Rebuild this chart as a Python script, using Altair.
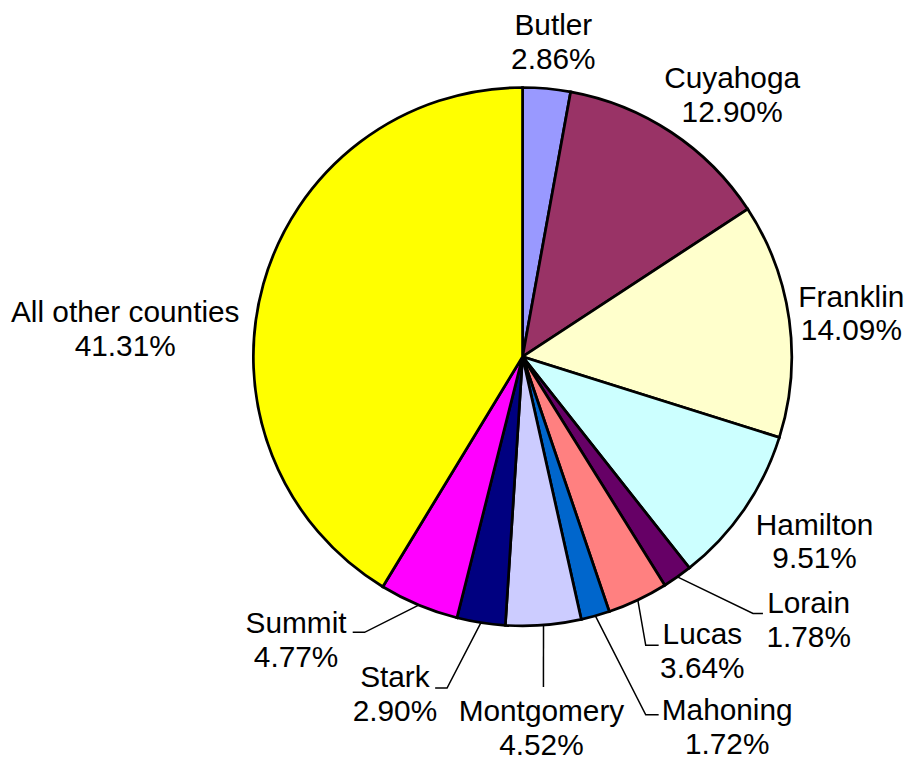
import altair as alt
import pandas as pd
import numpy as np

# ---- data ----
counties = ["Butler", "Cuyahoga", "Franklin", "Hamilton", "Lorain", "Lucas",
            "Mahoning", "Montgomery", "Stark", "Summit", "All other counties"]
shares = [2.86, 12.90, 14.09, 9.51, 1.78, 3.64, 1.72, 4.52, 2.90, 4.77, 41.31]
colors = ["#9999FF", "#993366", "#FFFFCC", "#CCFFFF", "#660066", "#FF8080",
          "#0066CC", "#CCCCFF", "#000080", "#FF00FF", "#FFFF00"]

# ---- layout (pixels, view coordinates) ----
CX, CY, R = 518, 346.5, 271
LINE_H = 34
label_dx = [31, 211, 331, 294, 288, 181, 206, 19, -128.5, -228, -400]
label_dy = [-316, -262.5, -42.5, 187, 266, 297, 374, 374.5, 341, 286, -27]
leader_pts = {
    "Lorain": [(232, 258.5), (242, 258.5)],
    "Lucas": [(124, 290.5), (137, 290.5)],
    "Mahoning": [(124, 360.5), (137, 360.5)],
    "Montgomery": [(21, 332.5), (21, 332.5)],
    "Stark": [(-76, 333.5), (-88, 333.5)],
    "Summit": [(-159, 277.5), (-171, 277.5)],
}

vals = np.array(shares)
cum = np.cumsum(vals)
mid = (cum - vals / 2) / vals.sum() * 2 * np.pi

df = pd.DataFrame({
    "county": counties,
    "share": shares,
    "idx": list(range(len(counties))),
    "label": [f"{c}\n{s:.2f}%" for c, s in zip(counties, shares)],
    "lx": [CX + d for d in label_dx],
    "ly": [CY + d - LINE_H / 2 for d in label_dy],
})

rows = []
for i, c in enumerate(counties):
    if c in leader_pts:
        ex = CX + R * np.sin(mid[i])
        ey = CY - R * np.cos(mid[i])
        rows.append({"county": c, "step": 0, "x": ex, "y": ey})
        for k, (dx, dy) in enumerate(leader_pts[c]):
            rows.append({"county": c, "step": k + 1, "x": CX + dx, "y": CY + dy})
lines_df = pd.DataFrame(rows)

pie = alt.Chart(df).mark_arc(outerRadius=R, stroke="black", strokeWidth=2.75).encode(
    theta=alt.Theta("share:Q", stack=True),
    color=alt.Color("county:N", scale=alt.Scale(domain=counties, range=colors), legend=None),
    order=alt.Order("idx:Q"),
    x=alt.value(CX),
    y=alt.value(CY),
)

leaders = alt.Chart(lines_df).mark_line(color="black", strokeWidth=1.5).encode(
    x=alt.X("x:Q", scale=None, axis=None),
    y=alt.Y("y:Q", scale=None, axis=None),
    detail="county:N",
    order="step:Q",
)

labels = alt.Chart(df).mark_text(
    font="Liberation Sans", fontSize=30, lineBreak="\n", lineHeight=LINE_H,
    align="center", baseline="middle", color="black",
).encode(
    x=alt.X("lx:Q", scale=None, axis=None),
    y=alt.Y("ly:Q", scale=None, axis=None),
    text="label:N",
)

chart = alt.layer(pie, leaders, labels).properties(
    width=897, height=740, padding=0
).configure_view(stroke=None)

chart.save("out.html", embed_options={"renderer": "svg", "actions": False})
